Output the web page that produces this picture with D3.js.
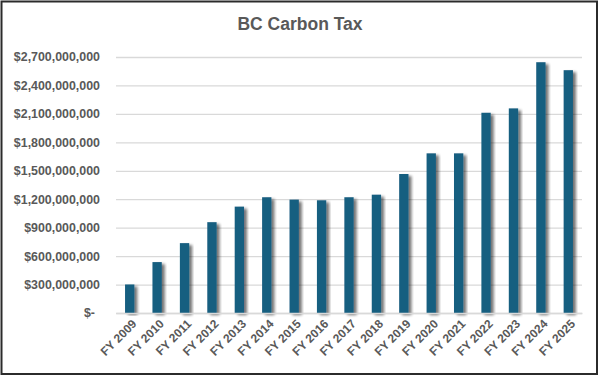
<!DOCTYPE html>
<html>
<head>
<meta charset="utf-8">
<script src="https://cdn.jsdelivr.net/npm/d3@7"></script>
<style>
  body { margin: 0; background: #fff; }
  svg { display: block; }
</style>
</head>
<body>
<svg width="599" height="376"></svg>
<script>
// fiscal years and carbon tax revenue (dollars)
const years = ['FY 2009', 'FY 2010', 'FY 2011', 'FY 2012', 'FY 2013', 'FY 2014', 'FY 2015', 'FY 2016', 'FY 2017',
    'FY 2018', 'FY 2019', 'FY 2020', 'FY 2021', 'FY 2022', 'FY 2023', 'FY 2024', 'FY 2025'];
const revenue = [301e6, 537e6, 737e6, 958e6, 1122e6, 1221e6, 1196e6, 1189e6, 1221e6,
    1248e6, 1466e6, 1684e6, 1684e6, 2112e6, 2158e6, 2645e6, 2561e6];
const yTicks = [0, 300e6, 600e6, 900e6, 1200e6, 1500e6, 1800e6, 2100e6, 2400e6, 2700e6];

const svg = d3.select('svg');
const width = +svg.attr('width');
const height = +svg.attr('height');
const margin = {top: 57, right: 17, bottom: 63, left: 116};
const textColor = '#595959';
const font = "'Liberation Sans', Arial, sans-serif";

// outer frame
svg.append('rect')
    .attr('x', 1.5).attr('y', 1.5)
    .attr('width', width - 3.5).attr('height', height - 3.5)
    .attr('fill', '#fff')
    .attr('stroke', '#2b2b2b')
    .attr('stroke-width', 2);

// drop shadow for the bars
const defs = svg.append('defs');
const shadow = defs.append('filter').attr('id', 'shadow')
    .attr('x', '-50%').attr('y', '-10%').attr('width', '200%').attr('height', '120%');
shadow.append('feGaussianBlur').attr('in', 'SourceAlpha').attr('stdDeviation', 1.6).attr('result', 'blur');
shadow.append('feOffset').attr('in', 'blur').attr('dx', 3).attr('dy', 2).attr('result', 'off');
shadow.append('feComponentTransfer').attr('in', 'off').attr('result', 'soft')
    .append('feFuncA').attr('type', 'linear').attr('slope', 0.55);
const merge = shadow.append('feMerge');
merge.append('feMergeNode').attr('in', 'soft');
merge.append('feMergeNode').attr('in', 'SourceGraphic');

const xScale = d3.scaleBand()
    .domain(years)
    .range([margin.left, width - margin.right])
    .paddingInner(0.66)
    .paddingOuter(0.33);

const yScale = d3.scaleLinear()
    .domain([0, 2700e6])
    .range([height - margin.bottom, margin.top]);

// title
svg.append('text')
    .attr('x', 300)
    .attr('y', 30)
    .attr('text-anchor', 'middle')
    .style('font-family', font)
    .style('font-size', '17.5px')
    .style('font-weight', 'bold')
    .style('fill', textColor)
    .text('BC Carbon Tax');

// y axis with gridlines
const yAxis = d3.axisLeft(yScale)
    .tickValues(yTicks)
    .tickSize(-(width - margin.left - margin.right))
    .tickPadding(16)
    .tickFormat(d => d === 0 ? '$-' : '$' + d3.format(',')(d));

const gy = svg.append('g')
    .attr('transform', 'translate(' + margin.left + ',0)')
    .call(yAxis);
gy.select('.domain').remove();
gy.selectAll('.tick line').attr('stroke', '#d9d9d9').attr('stroke-width', 1.3);
gy.selectAll('.tick text')
    .style('font-family', font)
    .style('font-size', '12.4px')
    .style('font-weight', 'bold')
    .style('fill', textColor);
// accounting format leaves a gap after the dash
gy.selectAll('.tick text').filter(d => d === 0).attr('dx', -5);

// bars
svg.append('g')
    .selectAll('rect')
    .data(years)
    .enter()
    .append('rect')
    .attr('x', d => xScale(d))
    .attr('y', (d, i) => yScale(revenue[i]))
    .attr('width', xScale.bandwidth())
    .attr('height', (d, i) => yScale(0) - yScale(revenue[i]))
    .attr('fill', '#195e80')
    .attr('filter', 'url(#shadow)');

// x axis labels
const xAxis = d3.axisBottom(xScale).tickSize(0).tickPadding(8);
const gx = svg.append('g')
    .attr('transform', 'translate(0,' + (height - margin.bottom) + ')')
    .call(xAxis);
gx.select('.domain').attr('stroke', '#d9d9d9').attr('stroke-width', 1.3);
gx.selectAll('.tick text')
    .style('font-family', font)
    .style('font-size', '12px')
    .style('font-weight', 'bold')
    .style('fill', textColor)
    .attr('text-anchor', 'end')
    .attr('transform', 'translate(-1,3) rotate(-45)')
    .attr('dy', '0.35em');
</script>
</body>
</html>
